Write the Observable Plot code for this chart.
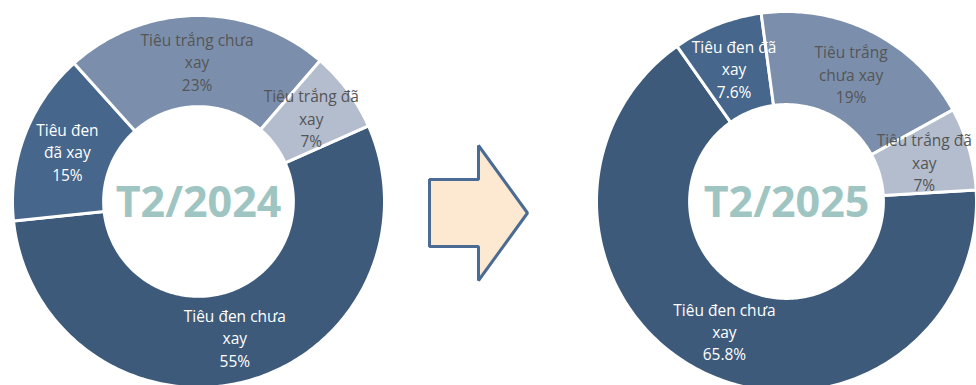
<!DOCTYPE html>
<html><head><meta charset="utf-8">
<script src="https://cdn.jsdelivr.net/npm/d3@7"></script>
<script src="https://cdn.jsdelivr.net/npm/@observablehq/plot@0.6"></script>
<style>html,body{margin:0;padding:0;background:#fff;overflow:hidden}</style>
</head><body><div id="chart"></div>
<script>
// ---- data ----
const categories = ["Tiêu đen chưa xay", "Tiêu đen đã xay", "Tiêu trắng chưa xay", "Tiêu trắng đã xay"];
const periods = ["T2/2024", "T2/2025"];
const share2024 = [55, 15, 23, 7];
const share2025 = [65.8, 7.6, 19, 7];
// wrapped label text as shown in each chart
const labels2024 = ["Tiêu đen chưa\nxay", "Tiêu đen\nđã xay", "Tiêu trắng chưa\nxay", "Tiêu trắng đã\nxay"];
const labels2025 = ["Tiêu đen chưa\nxay", "Tiêu đen đã\nxay", "Tiêu trắng\nchưa xay", "Tiêu trắng đã\nxay"];

// ---- styles / layout ----
const sliceColors = ["#3d5a7b", "#46668c", "#7b8fac", "#b3bdce"];
const labelColors = ["#ffffff", "#ffffff", "#555555", "#555555"];
const W = 976, H = 385;
const holeRatio = 0.51;
const font = "'Open Sans', sans-serif";
const donuts = [
  {period: periods[0], values: share2024, labels: labels2024, cx: 198, cy: 201, r: 186, start: 66},
  {period: periods[1], values: share2025, labels: labels2025, cx: 786, cy: 201, r: 190, start: 86.5}
];
const arrow = {x0: 429, xNeck: 478, xTip: 527, yMid: 212.5, headHalf: 67.5, shaftHalf: 33.5};

const slicePts = [], labelPts = [], centerPts = [];
donuts.forEach((d, di) => {
  const s = d.start * Math.PI / 180;
  const arcs = d3.pie().sort(null).startAngle(s).endAngle(s + 2 * Math.PI)(d.values);
  const rIn = d.r * holeRatio;
  arcs.forEach((a, i) => {
    const key = di + "-" + categories[i];
    const n = Math.max(8, Math.ceil((a.endAngle - a.startAngle) * 60));
    for (let k = 0; k <= n; k++) {
      const t = a.startAngle + (a.endAngle - a.startAngle) * k / n;
      slicePts.push({key, color: sliceColors[i], x: d.cx + d.r * Math.sin(t), y: d.cy - d.r * Math.cos(t)});
    }
    for (let k = n; k >= 0; k--) {
      const t = a.startAngle + (a.endAngle - a.startAngle) * k / n;
      slicePts.push({key, color: sliceColors[i], x: d.cx + rIn * Math.sin(t), y: d.cy - rIn * Math.cos(t)});
    }
    const mid = (a.startAngle + a.endAngle) / 2, rm = (d.r + rIn) / 2;
    labelPts.push({x: d.cx + rm * Math.sin(mid), y: d.cy - rm * Math.cos(mid),
      text: d.labels[i] + "\n" + d.values[i] + "%", color: labelColors[i]});
  });
  centerPts.push({x: d.cx, y: d.cy, text: d.period});
});

const A = arrow;
const arrowPts = [
  [A.x0, A.yMid - A.shaftHalf], [A.xNeck, A.yMid - A.shaftHalf], [A.xNeck, A.yMid - A.headHalf],
  [A.xTip, A.yMid], [A.xNeck, A.yMid + A.headHalf], [A.xNeck, A.yMid + A.shaftHalf], [A.x0, A.yMid + A.shaftHalf]
].map(([x, y]) => ({x, y}));

const chart = Plot.plot({
  width: W, height: H, margin: 0,
  x: {domain: [0, W], range: [0, W], axis: null},
  y: {domain: [0, H], range: [0, H], axis: null},
  style: {background: "#fff", fontFamily: font, overflow: "hidden"},
  marks: [
    Plot.line(slicePts, {x: "x", y: "y", z: "key", fill: "color", stroke: "#ffffff", strokeWidth: 3, curve: "linear-closed"}),
    Plot.line(arrowPts, {x: "x", y: "y", fill: "#fde9d1", stroke: "#4a6c94", strokeWidth: 3, curve: "linear-closed", strokeLinejoin: "miter"}),
    Plot.text(labelPts, {x: "x", y: "y", text: "text", fill: "color", fontSize: 15.5, lineHeight: 1.45, fontFamily: font}),
    Plot.text(centerPts, {x: "x", y: "y", text: "text", fill: "#9fc5c2", fontSize: 43, fontWeight: "bold", fontFamily: font, dy: 2})
  ]
});
document.getElementById("chart").appendChild(chart);
</script>
</body></html>
